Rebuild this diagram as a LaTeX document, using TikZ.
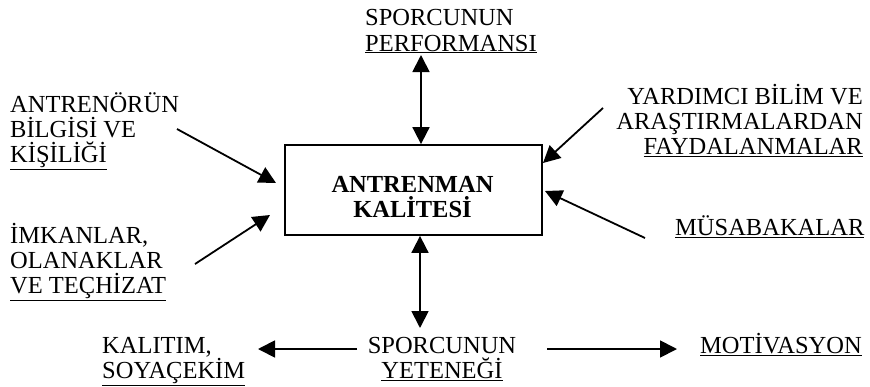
\documentclass[tikz,border=0pt]{standalone}
\usepackage{fontspec}
\setmainfont{Liberation Serif}
\usetikzlibrary{arrows.meta}
\newcommand\tstrut{\rule{0pt}{24pt}}
\begin{document}
\begin{tikzpicture}[x=1pt,y=-1pt,
  txt/.style={inner sep=0pt, font=\fontsize{24.5}{25.3}\selectfont},
  conn/.style={line width=1.8pt, -{Triangle[length=17pt,width=17pt]}},
  dconn/.style={line width=1.8pt, {Triangle[length=17pt,width=17pt]}-{Triangle[length=17pt,width=17pt]}},
]
\useasboundingbox (0,0) rectangle (870,386);

% central box
\node[draw, line width=1.8pt, minimum width=257pt, minimum height=90pt, inner sep=0pt] (box) at (413.5,190) {};
\node[txt, anchor=north, align=center, font=\fontsize{24.5}{25.3}\selectfont\bfseries] (boxtext) at (412.5,168) {\tstrut ANTRENMAN\\KALİTESİ};

% text blocks
\node[txt, anchor=north west, align=left] (top) at (365,1.5) {\tstrut SPORCUNUN\\\underline{PERFORMANSI}};
\node[txt, anchor=north west, align=left] (coach) at (10,88) {\tstrut ANTRENÖRÜN\\BİLGİSİ VE\\\underline{KİŞİLİĞİ}};
\node[txt, anchor=north west, align=left] (facil) at (10,219) {\tstrut İMKANLAR,\\OLANAKLAR\\\underline{VE TEÇHİZAT}};
\node[txt, anchor=north east, align=right] (sci) at (863,80) {\tstrut YARDIMCI BİLİM VE\\ARAŞTIRMALARDAN\\\underline{FAYDALANMALAR}};
\node[txt, anchor=north west, align=left] (mus) at (675,211) {\tstrut\underline{MÜSABAKALAR}};
\node[txt, anchor=north, align=center] (talent) at (442,329) {\tstrut SPORCUNUN\\\underline{YETENEĞİ}};
\node[txt, anchor=north west, align=left] (hered) at (102,329) {\tstrut KALITIM,\\\underline{SOYAÇEKİM}};
\node[txt, anchor=north west, align=left] (motiv) at (700,329) {\tstrut\underline{MOTİVASYON}};

% connector end points
\coordinate (ta) at (421,55);
\coordinate (ba) at (420,328);
\coordinate (c1) at (177,129);
\coordinate (c2) at (276,183);
\coordinate (f1) at (195,264);
\coordinate (f2) at (270,215);
\coordinate (s1) at (603,108);
\coordinate (s2) at (543,163);
\coordinate (m1) at (645,238);
\coordinate (m2) at (545,191);
\coordinate (h1) at (357,349);
\coordinate (h2) at (258,349);
\coordinate (v1) at (547,349);
\coordinate (v2) at (677,349);

% connectors
\draw[dconn] (ta) -- (ta |- box.north);
\draw[dconn] (ba |- box.south) -- (ba);
\draw[conn] (c1) -- (c2);
\draw[conn] (f1) -- (f2);
\draw[conn] (s1) -- (s2);
\draw[conn] (m1) -- (m2);
\draw[conn] (h1) -- (h2);
\draw[conn] (v1) -- (v2);
\end{tikzpicture}
\end{document}
